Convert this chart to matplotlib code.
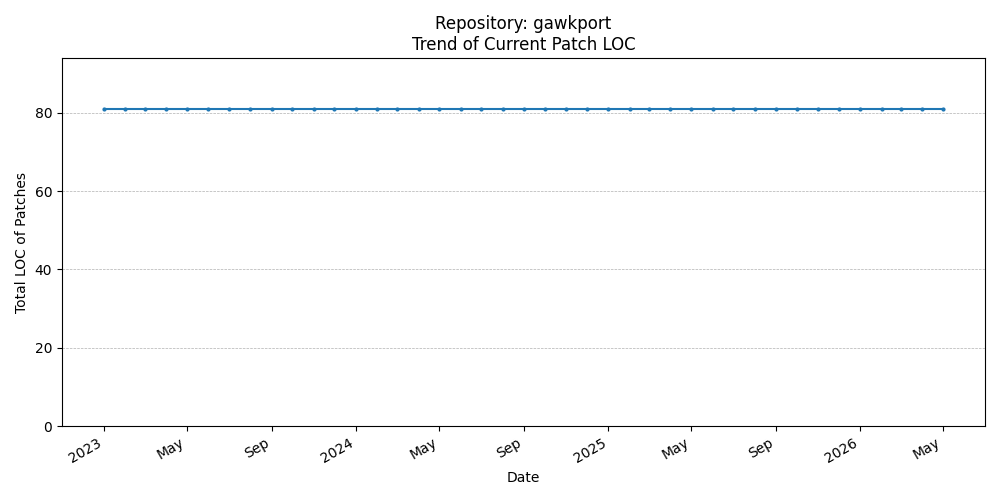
import matplotlib
matplotlib.use("Agg")
import matplotlib.pyplot as plt
import matplotlib.dates as mdates
import pandas as pd

dates = pd.date_range("2023-01-01", "2026-05-01", freq="MS")
loc_values = [81] * 41

fig, ax = plt.subplots(figsize=(10, 5), dpi=100)
ax.plot(dates, loc_values, marker="o", markersize=2, color="#1f77b4")
ax.set_ylim(0, 94)
ax.grid(axis="y", linestyle="--", linewidth=0.5, color="#b0b0b0")
loc = mdates.AutoDateLocator()
ax.xaxis.set_major_locator(loc)
ax.xaxis.set_major_formatter(mdates.ConciseDateFormatter(loc, show_offset=False))
ax.set_title("Repository: gawkport\nTrend of Current Patch LOC")
ax.set_xlabel("Date")
ax.set_ylabel("Total LOC of Patches")
fig.autofmt_xdate()
fig.tight_layout()
fig.savefig("out.png")
